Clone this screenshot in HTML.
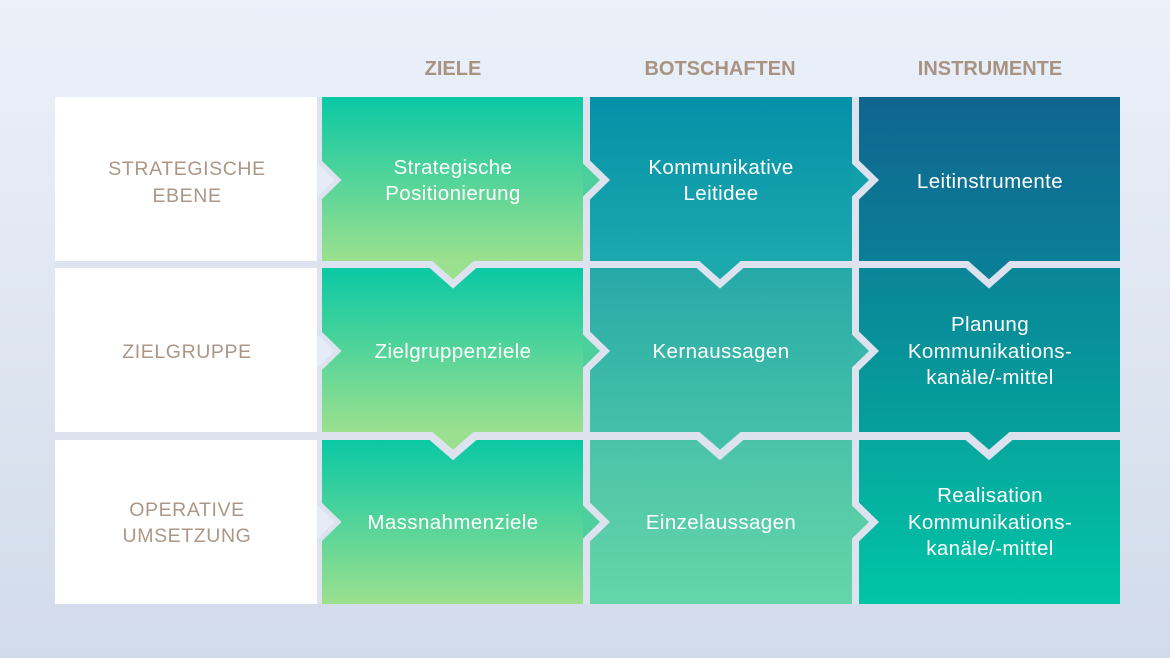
<!DOCTYPE html>
<html><head><meta charset="utf-8"><style>
html,body{margin:0;padding:0;width:1170px;height:658px;overflow:hidden}
svg{display:block}
text{font-family:"Liberation Sans",sans-serif}
</style></head><body>
<svg width="1170" height="658" viewBox="0 0 1170 658" xmlns="http://www.w3.org/2000/svg">
<defs>
<linearGradient id="bg" x1="0" y1="0" x2="0" y2="1"><stop offset="0" stop-color="#ebf1f9"/><stop offset="1" stop-color="#d2dbea"/></linearGradient>
<linearGradient id="z" x1="0" y1="0" x2="0" y2="1"><stop offset="0" stop-color="#0ac8a5"/><stop offset="1" stop-color="#9be08e"/></linearGradient>
<linearGradient id="b1" x1="0" y1="0" x2="0" y2="1"><stop offset="0" stop-color="#0590a8"/><stop offset="1" stop-color="#1ba8ad"/></linearGradient>
<linearGradient id="b2" x1="0" y1="0" x2="0" y2="1"><stop offset="0" stop-color="#27a9a9"/><stop offset="1" stop-color="#45c0a8"/></linearGradient>
<linearGradient id="b3" x1="0" y1="0" x2="0" y2="1"><stop offset="0" stop-color="#4ac3a8"/><stop offset="1" stop-color="#66d6a9"/></linearGradient>
<linearGradient id="i1" x1="0" y1="0" x2="0" y2="1"><stop offset="0" stop-color="#10658f"/><stop offset="1" stop-color="#0b7e97"/></linearGradient>
<linearGradient id="i2" x1="0" y1="0" x2="0" y2="1"><stop offset="0" stop-color="#0a8598"/><stop offset="1" stop-color="#05a09c"/></linearGradient>
<linearGradient id="i3" x1="0" y1="0" x2="0" y2="1"><stop offset="0" stop-color="#07a79e"/><stop offset="1" stop-color="#00c5a5"/></linearGradient>
</defs>
<rect width="1170" height="658" fill="url(#bg)"/>
<g font-weight="bold" font-size="20" fill="#a89383" text-anchor="middle">
<text x="453" y="75">ZIELE</text><text x="720" y="75">BOTSCHAFTEN</text><text x="990" y="75">INSTRUMENTE</text>
</g>
<rect x="55" y="97" width="1065" height="507" fill="#dde3ee"/>
<rect x="55" y="97" width="262" height="164" fill="#fff"/>
<rect x="55" y="268" width="262" height="164" fill="#fff"/>
<rect x="55" y="440" width="262" height="164" fill="#fff"/>
<rect x="322" y="97" width="261" height="164" fill="url(#z)"/>
<rect x="322" y="268" width="261" height="164" fill="url(#z)"/>
<rect x="322" y="440" width="261" height="164" fill="url(#z)"/>
<rect x="590" y="97" width="262" height="164" fill="url(#b1)"/>
<rect x="590" y="268" width="262" height="164" fill="url(#b2)"/>
<rect x="590" y="440" width="262" height="164" fill="url(#b3)"/>
<rect x="859" y="97" width="261" height="164" fill="url(#i1)"/>
<rect x="859" y="268" width="261" height="164" fill="url(#i2)"/>
<rect x="859" y="440" width="261" height="164" fill="url(#i3)"/>
<g stroke="none">
<polygon points="317,159.6 338,180 317,200.4" fill="#e6ecf5"/>
<polygon points="317,330.6 338,351 317,371.4" fill="#e6ecf5"/>
<polygon points="317,501.6 338,522 317,542.4" fill="#e6ecf5"/>
<polygon points="583,158.6 605,180 583,201.4" fill="#4ccf9c"/>
<polygon points="583,329.6 605,351 583,372.4" fill="#4ccf9c"/>
<polygon points="583,500.6 605,522 583,543.4" fill="#4ccf9c"/>
<polygon points="852,158.6 874,180 852,201.4" fill="#119fab"/>
<polygon points="852,329.6 874,351 852,372.4" fill="#37b6a9"/>
<polygon points="852,500.6 874,522 852,543.4" fill="#58cda8"/>
<polygon points="427,261 453,284 479,261" fill="#9be08e"/>
<polygon points="694,261 720,284 746,261" fill="#1ba8ad"/>
<polygon points="963,261 989,284 1015,261" fill="#0b7e97"/>
<polygon points="426,432 453,455 480,432" fill="#9be08e"/>
<polygon points="693,432 720,455 747,432" fill="#45c0a8"/>
<polygon points="962,432 989,455 1016,432" fill="#05a09c"/>
</g>
<g stroke="#dde3ee" fill="none">
<g stroke-width="5">
<polyline points="319.5,140 319.5,162 338,180 319.5,198 319.5,220"/><polyline points="319.5,311 319.5,333 338,351 319.5,369 319.5,391"/><polyline points="319.5,482 319.5,504 338,522 319.5,540 319.5,562"/>
</g>
<g stroke-width="7">
<polyline points="586.5,140 586.5,162 605,180 586.5,198 586.5,220"/><polyline points="586.5,311 586.5,333 605,351 586.5,369 586.5,391"/><polyline points="586.5,482 586.5,504 605,522 586.5,540 586.5,562"/>
<polyline points="855.5,140 855.5,162 874,180 855.5,198 855.5,220"/><polyline points="855.5,311 855.5,333 874,351 855.5,369 855.5,391"/><polyline points="855.5,482 855.5,504 874,522 855.5,540 855.5,562"/>
<polyline points="405,264.5 431,264.5 453,284 475,264.5 500,264.5"/><polyline points="672,264.5 698,264.5 720,284 742,264.5 768,264.5"/><polyline points="941,264.5 967,264.5 989,284 1011,264.5 1037,264.5"/>
</g>
<g stroke-width="8">
<polyline points="405,436 431,436 453,455 475,436 500,436"/><polyline points="672,436 698,436 720,455 742,436 768,436"/><polyline points="941,436 967,436 989,455 1011,436 1037,436"/>
</g>
</g>
<g fill="#fff" font-size="20.5" text-anchor="middle" letter-spacing="0.4">
<text x="453" y="174">Strategische</text><text x="453" y="200">Positionierung</text>
<text x="453" y="358">Zielgruppenziele</text>
<text x="453" y="529">Massnahmenziele</text>
<text x="721" y="174">Kommunikative</text><text x="721" y="200">Leitidee</text>
<text x="721" y="358">Kernaussagen</text>
<text x="721" y="529">Einzelaussagen</text>
<text x="990" y="188">Leitinstrumente</text>
<text x="990" y="331">Planung</text><text x="990" y="358">Kommunikations-</text><text x="990" y="384">kanäle/-mittel</text>
<text x="990" y="502">Realisation</text><text x="990" y="529">Kommunikations-</text><text x="990" y="555">kanäle/-mittel</text>
</g>
<g fill="#ab9787" font-size="19.5" text-anchor="middle" letter-spacing="0.6">
<text x="187" y="175">STRATEGISCHE</text><text x="187" y="202">EBENE</text>
<text x="187" y="358">ZIELGRUPPE</text>
<text x="187" y="516">OPERATIVE</text><text x="187" y="542">UMSETZUNG</text>
</g>
</svg>
</body></html>
